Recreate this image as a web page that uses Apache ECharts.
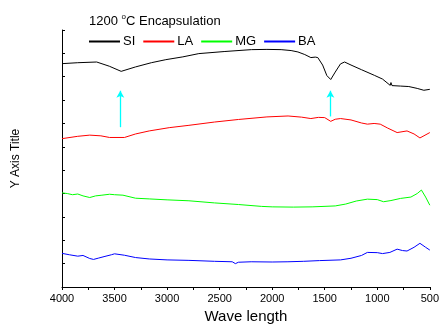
<!DOCTYPE html>
<html><head><meta charset="utf-8">
<script src="https://cdn.jsdelivr.net/npm/echarts@6/dist/echarts.min.js"></script>
<style>html,body{margin:0;padding:0;background:#fff}#c{width:442px;height:329px}</style>
</head><body><div id="c"></div>
<script>
const seriesNames = ['SI', 'LA', 'MG', 'BA'];
const seriesColors = ['#000000', '#ff0000', '#00ff00', '#0000ff'];
const xTicks = [4000, 3500, 3000, 2500, 2000, 1500, 1000, 500];
const siData = [[4000,9.56],[3850,9.6],[3670,9.63],[3550,9.45],[3437,9.23],[3300,9.42],[3150,9.6],[3012,9.73],[2850,9.85],[2698,9.99],[2450,10.08],[2198,10.16],[2050,10.17],[1915,10.16],[1820,10.12],[1755,10.06],[1690,9.95],[1632,9.82],[1590,9.84],[1566,9.82],[1520,9.5],[1480,9.05],[1443,8.88],[1400,9.2],[1350,9.55],[1311,9.63],[1250,9.5],[1150,9.3],[1028,9.06],[950,8.9],[877,8.63],[870,8.75],[860,8.62],[780,8.6],[700,8.58],[620,8.5],[557,8.42],[500,8.46]];
const laData = [[4000,6.35],[3850,6.45],[3736,6.5],[3630,6.47],[3547,6.4],[3406,6.4],[3300,6.55],[3170,6.68],[2980,6.82],[2792,6.92],[2550,7.06],[2321,7.17],[2050,7.28],[1849,7.32],[1720,7.27],[1632,7.21],[1560,7.26],[1500,7.25],[1443,7.09],[1400,7.18],[1349,7.21],[1250,7.15],[1150,7.02],[1094,6.97],[1030,7.0],[972,6.97],[900,6.8],[811,6.61],[717,6.68],[650,6.55],[594,6.38],[500,6.61]];
const mgData = [[4000,4.03],[3950,4.0],[3900,3.95],[3850,3.98],[3800,3.9],[3736,3.83],[3680,3.9],[3620,3.93],[3547,3.97],[3500,3.95],[3420,3.93],[3300,3.8],[3170,3.77],[3000,3.73],[2792,3.69],[2550,3.6],[2321,3.53],[2100,3.45],[2000,3.43],[1800,3.42],[1620,3.43],[1400,3.47],[1300,3.55],[1200,3.68],[1094,3.76],[1000,3.74],[940,3.65],[870,3.7],[780,3.79],[680,3.85],[620,4.0],[580,4.15],[540,3.85],[500,3.5]];
const baData = [[4000,1.44],[3930,1.38],[3850,1.32],[3800,1.35],[3736,1.22],[3700,1.18],[3650,1.24],[3600,1.3],[3530,1.38],[3500,1.42],[3406,1.36],[3300,1.26],[3170,1.2],[3000,1.16],[2792,1.14],[2550,1.1],[2380,1.08],[2350,1.0],[2321,1.06],[2200,1.08],[2000,1.07],[1850,1.08],[1700,1.1],[1550,1.13],[1349,1.16],[1250,1.23],[1150,1.35],[1094,1.48],[1000,1.47],[950,1.43],[880,1.48],[811,1.62],[760,1.56],[717,1.54],[650,1.7],[594,1.87],[540,1.7],[500,1.58]];
const arrowMarks = [[[3445,6.84],[3445,8.4]],[[1446,7.3],[1446,8.4]]];
const allData = [siData, laData, mgData, baData];

const chart = echarts.init(document.getElementById('c'));
const font = 'Liberation Sans, Arial, sans-serif';
const series = seriesNames.map((n, i) => ({
  name: n, type: 'line', data: allData[i], symbol: 'none', smooth: false,
  lineStyle: { color: seriesColors[i], width: 1 }, itemStyle: { color: seriesColors[i] },
  animation: false
}));
series[0].markLine = {
  silent: true, symbol: ['none', 'arrow'], symbolSize: [6, 7],
  label: { show: false },
  lineStyle: { color: '#00ffff', type: 'solid', width: 1.3 },
  data: arrowMarks.map(a => [{ coord: a[0] }, { coord: a[1] }])
};
chart.setOption({
  animation: false,
  title: {
    text: '1200 {sup|o}C Encapsulation', left: 84, top: 8,
    textStyle: { fontFamily: font, fontSize: 13, fontWeight: 'normal', color: '#000',
      rich: { sup: { fontSize: 8, verticalAlign: 'top', padding: [0, 0, 8, 0], fontFamily: font, color: '#000' } } }
  },
  legend: {
    left: 84, top: 30, itemWidth: 31, itemHeight: 2, itemGap: 8,
    icon: 'rect',
    textStyle: { fontFamily: font, fontSize: 13, color: '#000', padding: [0, 0, 0, -2] },
    data: seriesNames
  },
  grid: { left: 62, right: 9, top: 30, bottom: 42 },
  xAxis: {
    type: 'value', inverse: true, min: 500, max: 4000, interval: 250,
    name: 'Wave length', nameLocation: 'middle', nameGap: 22,
    nameTextStyle: { fontFamily: font, fontSize: 15, color: '#000' },
    axisLine: { lineStyle: { color: '#000', width: 1 } },
    axisTick: { inside: false, length: 3, lineStyle: { color: '#000' } },
    axisLabel: { fontFamily: font, fontSize: 11, color: '#000', margin: 6,
      formatter: v => (xTicks.indexOf(v) >= 0 ? String(v) : '') },
    splitLine: { show: false }
  },
  yAxis: {
    type: 'value', min: 0, max: 11, interval: 1,
    name: 'Y Axis Title', nameLocation: 'middle', nameGap: 40, nameRotate: 90,
    nameTextStyle: { fontFamily: font, fontSize: 12, color: '#000' },
    axisLine: { show: true, lineStyle: { color: '#000', width: 1 } },
    axisTick: { show: true, inside: true, length: 3, lineStyle: { color: '#000' } },
    axisLabel: { show: false },
    splitLine: { show: false }
  },
  series: series
});
</script></body></html>
